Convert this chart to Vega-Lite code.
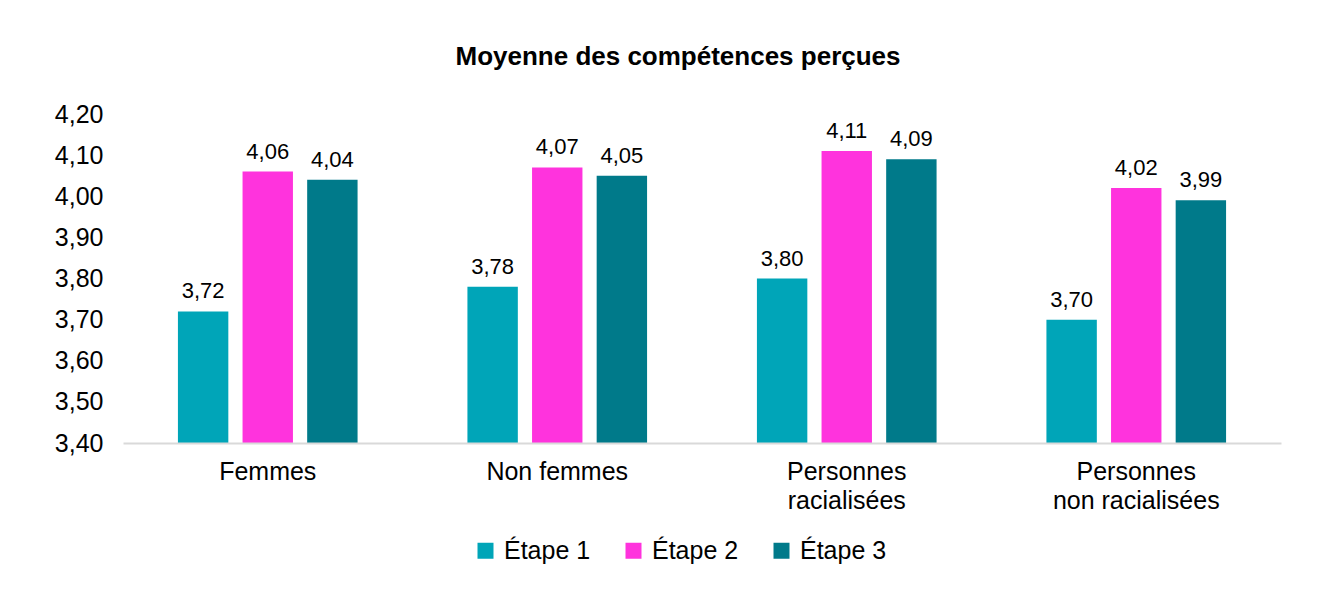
{
  "$schema": "https://vega.github.io/schema/vega-lite/v6.json",
  "width": 1158,
  "height": 329,
  "autosize": "none",
  "padding": {"left": 123, "top": 114, "right": 50, "bottom": 161},
  "background": "white",
  "title": {
    "text": "Moyenne des compétences perçues",
    "font": "Liberation Sans",
    "fontSize": 26,
    "fontWeight": "bold",
    "color": "#000000",
    "anchor": "middle",
    "dx": -24,
    "offset": 32
  },
  "config": {
    "view": {"stroke": null},
    "font": "Liberation Sans",
    "locale": {
      "number": {"decimal": ",", "thousands": " ", "grouping": [3], "currency": ["", " €"]}
    }
  },
  "data": {
    "values": [
      {"groupe": "Femmes", "etape": "Étape 1", "moyenne": 3.72},
      {"groupe": "Femmes", "etape": "Étape 2", "moyenne": 4.06},
      {"groupe": "Femmes", "etape": "Étape 3", "moyenne": 4.04},
      {"groupe": "Non femmes", "etape": "Étape 1", "moyenne": 3.78},
      {"groupe": "Non femmes", "etape": "Étape 2", "moyenne": 4.07},
      {"groupe": "Non femmes", "etape": "Étape 3", "moyenne": 4.05},
      {"groupe": "Personnes racialisées", "etape": "Étape 1", "moyenne": 3.80},
      {"groupe": "Personnes racialisées", "etape": "Étape 2", "moyenne": 4.11},
      {"groupe": "Personnes racialisées", "etape": "Étape 3", "moyenne": 4.09},
      {"groupe": "Personnes non racialisées", "etape": "Étape 1", "moyenne": 3.70},
      {"groupe": "Personnes non racialisées", "etape": "Étape 2", "moyenne": 4.02},
      {"groupe": "Personnes non racialisées", "etape": "Étape 3", "moyenne": 3.99}
    ]
  },
  "encoding": {
    "x": {
      "field": "groupe",
      "type": "nominal",
      "sort": ["Femmes", "Non femmes", "Personnes racialisées", "Personnes non racialisées"],
      "scale": {"paddingInner": 0, "paddingOuter": 0},
      "axis": {
        "title": null,
        "labelAngle": 0,
        "labelFontSize": 25,
        "labelColor": "#000000",
        "labelPadding": 16,
        "labelLineHeight": 29,
        "labelExpr": "datum.label == 'Personnes racialisées' ? ['Personnes', 'racialisées'] : datum.label == 'Personnes non racialisées' ? ['Personnes', 'non racialisées'] : datum.label",
        "ticks": false,
        "domainColor": "#d9d9d9",
        "domainWidth": 2,
        "zindex": 1
      }
    },
    "xOffset": {
      "field": "etape",
      "type": "nominal",
      "scale": {"paddingInner": 0.22, "paddingOuter": 0.85}
    },
    "y": {
      "field": "moyenne",
      "type": "quantitative",
      "scale": {"domain": [3.4, 4.2], "zero": false, "nice": false},
      "axis": {
        "title": null,
        "values": [3.4, 3.5, 3.6, 3.7, 3.8, 3.9, 4.0, 4.1, 4.2],
        "format": ".2f",
        "labelFontSize": 25,
        "labelColor": "#000000",
        "labelPadding": 20,
        "domain": false,
        "ticks": false,
        "grid": false
      }
    }
  },
  "layer": [
    {
      "mark": {"type": "bar"},
      "encoding": {
        "y2": {"datum": 3.4},
        "color": {
          "field": "etape",
          "type": "nominal",
          "scale": {
            "domain": ["Étape 1", "Étape 2", "Étape 3"],
            "range": ["#00A5B8", "#FF33DD", "#007A8A"]
          },
          "legend": {
            "title": null,
            "orient": "none",
            "direction": "horizontal",
            "legendX": 350,
            "legendY": 424,
            "symbolType": "square",
            "symbolSize": 256,
            "symbolStrokeWidth": 0,
            "labelFontSize": 25,
            "labelColor": "#000000",
            "labelOffset": 6,
            "columnPadding": 30
          }
        }
      }
    },
    {
      "mark": {
        "type": "text",
        "baseline": "bottom",
        "dy": -8,
        "fontSize": 22,
        "color": "#000000"
      },
      "encoding": {
        "text": {"field": "moyenne", "type": "quantitative", "format": ".2f"}
      }
    }
  ]
}
